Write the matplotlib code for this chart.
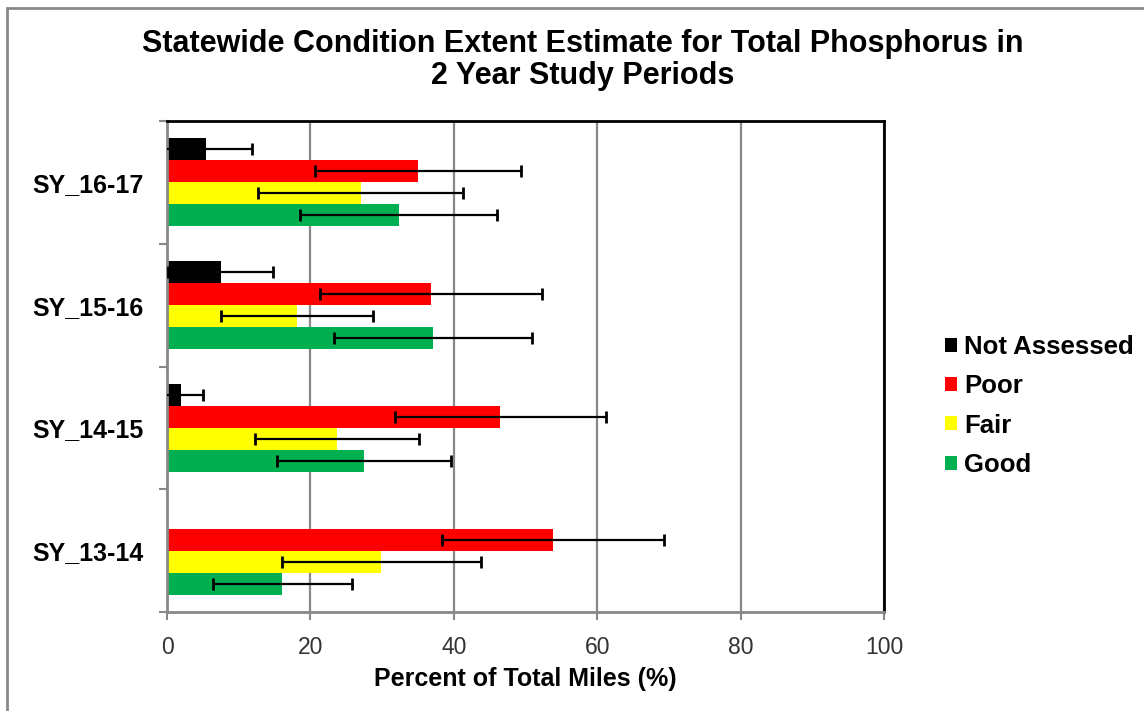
import matplotlib.pyplot as plt
import numpy as np

plt.rcParams['font.family'] = ['Liberation Sans', 'DejaVu Sans']

# data
periods = ['SY_13-14', 'SY_14-15', 'SY_15-16', 'SY_16-17']
conditions = ['Not Assessed', 'Poor', 'Fair', 'Good']
colors = ['#000000', '#FF0000', '#FFFF00', '#00B050']

not_assessed = [0.0, 1.9, 7.5, 5.4]
poor = [53.8, 46.5, 36.8, 35.0]
fair = [29.9, 23.7, 18.1, 27.0]
good = [16.1, 27.5, 37.1, 32.3]

not_assessed_err = [0.0, 3.1, 7.3, 6.5]
poor_err = [15.5, 14.7, 15.5, 14.3]
fair_err = [13.9, 11.5, 10.6, 14.3]
good_err = [9.7, 12.1, 13.8, 13.7]

values = [not_assessed, poor, fair, good]
errors = [not_assessed_err, poor_err, fair_err, good_err]

fig = plt.figure(figsize=(11.44, 7.11), dpi=100)
ax = fig.add_axes([0.146, 0.1387, 0.6268, 0.6916])

y = np.arange(len(periods))
h = 0.18
offsets = [1.5 * h, 0.5 * h, -0.5 * h, -1.5 * h]

for vals, errs, col, name, off in zip(values, errors, colors, conditions, offsets):
    vals = np.array(vals)
    errs = np.array(errs)
    ax.barh(y + off, vals, height=h, color=col, label=name, zorder=2)
    # no error bar where nothing was measured
    m = vals > 0
    ax.errorbar(vals[m], (y + off)[m], xerr=errs[m], fmt='none', ecolor='black',
                elinewidth=1.6, capsize=4, capthick=2, zorder=3)

ax.set_xlim(0, 100)
ax.set_ylim(-0.5, 3.5)
ax.set_xticks(np.arange(0, 101, 20))
ax.tick_params(axis='x', labelsize=16.5, labelcolor='#333333', length=6,
               width=1.5, color='#888888', direction='out', pad=11)

ax.set_yticks(y)
ax.set_yticklabels(periods, fontsize=18, fontweight='bold')
ax.set_yticks(np.arange(-0.5, 4, 1), minor=True)
ax.tick_params(axis='y', which='major', length=0, pad=17)
ax.tick_params(axis='y', which='minor', length=6, width=1.5, color='#888888')

ax.grid(axis='x', color='#888888', linewidth=1.6, zorder=0)
ax.set_axisbelow(True)

ax.spines['left'].set_color('#888888')
ax.spines['bottom'].set_color('#888888')
ax.spines['left'].set_linewidth(2)
ax.spines['bottom'].set_linewidth(2)
ax.spines['top'].set_color('black')
ax.spines['right'].set_color('black')
ax.spines['top'].set_linewidth(2)
ax.spines['right'].set_linewidth(2)

ax.set_xlabel('Percent of Total Miles (%)', fontsize=18, fontweight='bold', labelpad=6)

fig.text(0.509, 1 - 60 / 711,
         'Statewide Condition Extent Estimate for Total Phosphorus in\n2 Year Study Periods',
         fontsize=22, fontweight='bold', ha='center', va='center', linespacing=1.12)

handles, labels = ax.get_legend_handles_labels()
ax.legend(handles, labels, loc='center left', bbox_to_anchor=(1.071, 0.42),
          borderaxespad=0, frameon=False, prop={'size': 18.5, 'weight': 'bold'},
          handlelength=0.47, handleheight=0.47, handletextpad=0.25, labelspacing=0.6)

# chart area border
fig.patches.append(plt.Rectangle((0.006, -0.01), 1.1, 0.999, transform=fig.transFigure,
                                 fill=False, edgecolor='#888888', linewidth=2))

fig.savefig('out.png', dpi=100)
